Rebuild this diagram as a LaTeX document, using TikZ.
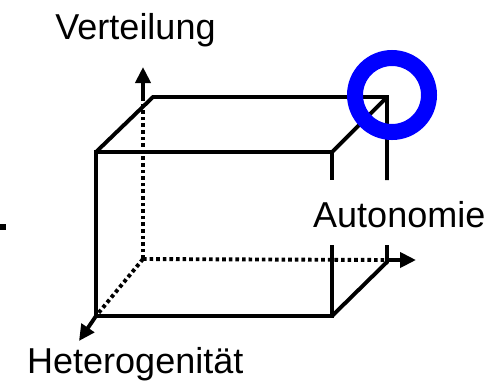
\documentclass[tikz,border=0pt]{standalone}
\usepackage{fontspec}
\setmainfont{Liberation Sans}
\usetikzlibrary{arrows.meta}
\tikzset{
  edge/.style={line width=3.9pt, line cap=butt, line join=miter},
  axisdot/.style={line width=3.9pt, dash pattern=on 3.6pt off 3pt},
  axisarrow/.style={line width=3.9pt, -{Triangle[length=16pt,width=15pt]}},
  label/.style={font=\fontsize{36}{40}\selectfont, inner sep=0pt},
}
\definecolor{ringblue}{RGB}{0,0,255}
\begin{document}
\begin{tikzpicture}[x=1pt,y=-1pt]
\useasboundingbox (0,0) rectangle (502,384);
% corners
\coordinate (ftl) at (96,152);
\coordinate (ftr) at (332,152);
\coordinate (fbl) at (96,316);
\coordinate (fbr) at (332,316);
\coordinate (btl) at (153,97);
\coordinate (btr) at (387,97);
\coordinate (bbr) at (387,262);
\coordinate (o) at (143,259);
\coordinate (vtop) at (143,100);
\coordinate (vtip) at (143,67);
\coordinate (hend) at (386,260);
\coordinate (htip) at (416,260);
\coordinate (dtip) at (79,341);
\coordinate (fga) at (332,180);
\coordinate (fgb) at (332,245);
\coordinate (bga) at (387,180);
\coordinate (bgb) at (387,245);
% dotted axes
\draw[axisdot] (o) -- (vtop);
\draw[axisdot] (o) -- (hend);
\draw[axisdot] (o) -- (fbl);
% arrows
\draw[axisarrow] (vtop) -- (vtip);
\draw[axisarrow] (hend) -- (htip);
\draw[axisarrow] (fbl) -- (dtip);
% cube
\draw[edge] (fbl) -- (ftl) -- (ftr) -- (fga);
\draw[edge] (fgb) -- (fbr) -- (fbl);
\draw[edge] (ftl) -- (btl) -- (btr) -- (bga);
\draw[edge] (bgb) -- (bbr) -- (fbr);
\draw[edge] (ftr) -- (btr);
% ring
\draw[ringblue, line width=16pt] (392,95) circle (37);
% small mark
\fill (0,224) rectangle (6,230);
% labels
\node[label, anchor=base] (verteilung) at (135.5,39) {Verteilung};
\node[label, anchor=base west] (autonomie) at (313,227) {Autonomie};
\node[label, anchor=base west] (hetero) at (27,373) {Heterogenität};
\end{tikzpicture}
\end{document}
